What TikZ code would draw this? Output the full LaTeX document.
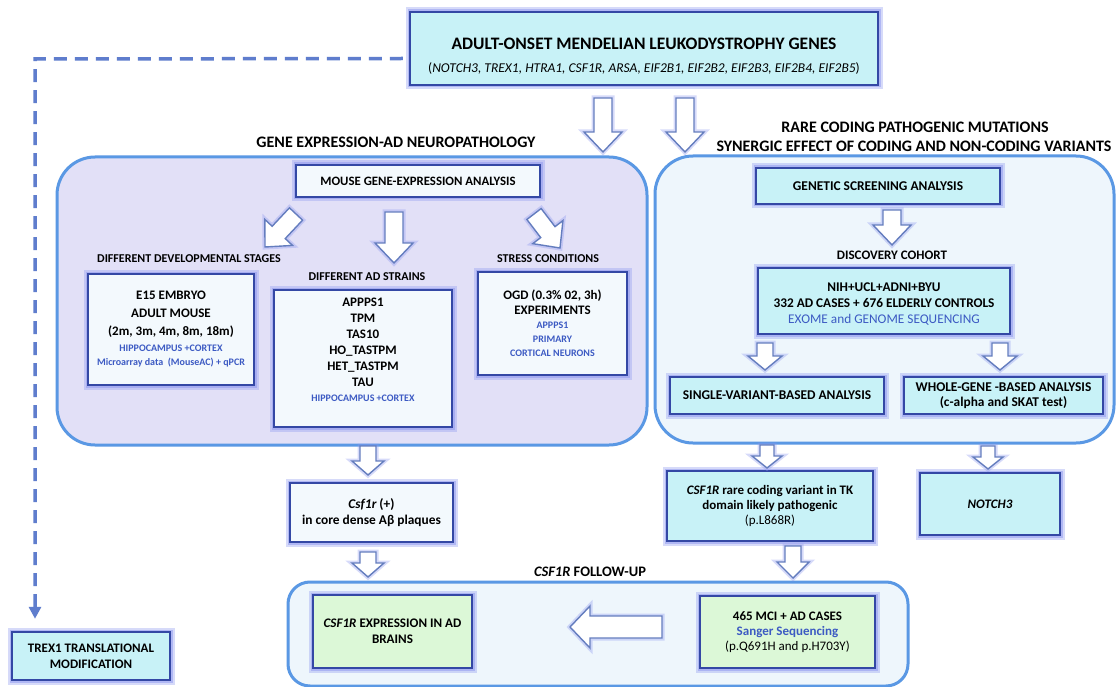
\documentclass[tikz,border=0pt]{standalone}
\usepackage{fontspec}
\setmainfont{Carlito}
\usetikzlibrary{calc,arrows.meta}
\definecolor{boxb}{RGB}{52,72,165}
\definecolor{glowc}{RGB}{140,150,240}
\definecolor{cyanf}{RGB}{200,242,247}
\definecolor{lavf}{RGB}{226,224,247}
\definecolor{panb}{RGB}{90,152,228}
\definecolor{lightf}{RGB}{238,246,252}
\definecolor{whitef}{RGB}{243,249,253}
\definecolor{greenf}{RGB}{220,248,215}
\definecolor{bluet}{RGB}{60,90,195}
\definecolor{dashb}{RGB}{95,125,205}
\definecolor{arrb}{RGB}{100,125,190}
\newcommand{\fs}[1]{\fontsize{#1}{#1}\selectfont}
\newcommand{\blockarr}[5]{%
  \coordinate (bah) at ($(#2)!#5!(#1)$);
  \draw[barrowglow] ($(#1)!#3!90:(#2)$) -- ($(bah)!#3!90:(#2)$) -- ($(bah)!#4!90:(#2)$) -- (#2) -- ($(bah)!#4!-90:(#2)$) -- ($(bah)!#3!-90:(#2)$) -- ($(#1)!#3!-90:(#2)$) -- cycle;
  \draw[barrow] ($(#1)!#3!90:(#2)$) -- ($(bah)!#3!90:(#2)$) -- ($(bah)!#4!90:(#2)$) -- (#2) -- ($(bah)!#4!-90:(#2)$) -- ($(bah)!#3!-90:(#2)$) -- ($(#1)!#3!-90:(#2)$) -- cycle;}
\tikzset{
  box/.style={draw=boxb, line width=2.4pt, align=center, inner sep=2pt,
    preaction={draw=glowc, line width=9pt, opacity=0.35},
    preaction={draw=glowc, line width=5pt, opacity=0.5},
    font=\bfseries\fs{13}},
  cbox/.style={box, fill=cyanf},
  wbox/.style={box, fill=whitef},
  gbox/.style={box, fill=greenf},
  panel/.style={draw=panb, line width=3pt, rounded corners=38pt},
  lbl/.style={font=\bfseries\fs{12.5}, inner sep=0pt},
  ttl/.style={font=\bfseries\fs{16}, inner sep=0pt},
  barrow/.style={draw=arrb, fill=white, line width=1.4pt, line join=miter},
  barrowglow/.style={draw=glowc, line width=5pt, opacity=0.35},
  dasharr/.style={draw=dashb, line width=3.5pt, dash pattern=on 13pt off 8pt, -{Triangle[length=12pt,width=12pt]}}
}
\newcommand{\bt}[1]{{\color{bluet}#1}}
\begin{document}
\begin{tikzpicture}[x=1pt,y=-1pt]
\useasboundingbox (0,0) rectangle (1116,687);
\fill[white] (0,0) rectangle (1116,687);

% panels
\draw[panel, fill=lavf] (57,157) rectangle (647,445);
\draw[panel, fill=lightf] (655,156) rectangle (1114,443);
\draw[panel, fill=lightf, rounded corners=22pt] (288,582) rectangle (908,686);

% titles
\node[ttl] (tleft) at (396,142) {GENE EXPRESSION-AD NEUROPATHOLOGY};
\node[ttl] (tright1) at (915,127) {RARE CODING PATHOGENIC MUTATIONS};
\node[ttl] (tright2) at (914,146) {SYNERGIC EFFECT OF CODING AND NON-CODING VARIANTS};
\node[ttl, font=\bfseries\fs{14.5}] (tfollow) at (590,572) {\itshape CSF1R\upshape{} FOLLOW-UP};

% top box
\node[cbox, minimum width=468pt, minimum height=73pt] (top) at (644,48.5)
  {\rule{0pt}{27pt}{\fs{17.5}ADULT-ONSET MENDELIAN LEUKODYSTROPHY GENES}\\[10pt]
   {\mdseries\fs{13.5}(\itshape NOTCH3, TREX1, HTRA1, CSF1R, ARSA, EIF2B1, EIF2B2, EIF2B3, EIF2B4, EIF2B5\upshape)}};

\node[cbox, minimum width=158pt, minimum height=48pt, font=\bfseries\fs{13}] (trex) at (91,656)
  {TREX1 TRANSLATIONAL\\[3pt]MODIFICATION};

% left panel contents
\node[wbox, minimum width=244pt, minimum height=32pt, font=\bfseries\fs{12.8}] (mouse) at (418,181)
  {MOUSE GENE-EXPRESSION ANALYSIS};
\node[lbl, font=\bfseries\fs{12}] (ldev) at (189,259) {DIFFERENT DEVELOPMENTAL STAGES};
\node[lbl, font=\bfseries\fs{12}] (lstr) at (367,277) {DIFFERENT AD STRAINS};
\node[lbl, font=\bfseries\fs{12}] (lstress) at (548,259) {STRESS CONDITIONS};

\node[wbox, minimum width=166pt, minimum height=111pt] (dev) at (171,329.5)
  {E15 EMBRYO\\[5pt] ADULT MOUSE\\[5pt] (2m, 3m, 4m, 8m, 18m)\\[3pt]
   {\fs{10}\bt{HIPPOCAMPUS +CORTEX}}\\[1pt] {\fs{10}\bt{Microarray data\ \ (MouseAC) + qPCR}}};
\node[wbox, minimum width=178pt, minimum height=137pt] (strains) at (363,358.5)
  {APPPS1\\[3pt] TPM\\[3pt] TAS10\\[3pt] HO\_TASTPM\\[3pt] HET\_TASTPM\\[3pt] TAU\\[2pt]
   {\fs{10}\bt{HIPPOCAMPUS +CORTEX}}\\[5pt]\mbox{}};
\node[wbox, minimum width=149pt, minimum height=103pt] (stress) at (552.5,323.5)
  {OGD (0.3\% 02, 3h)\\[2pt] EXPERIMENTS\\[1pt]
   {\fs{10}\bt{APPPS1}}\\[1pt] {\fs{10}\bt{PRIMARY}}\\[1pt] {\fs{10}\bt{CORTICAL NEURONS}}};

% right panel contents
\node[cbox, minimum width=244pt, minimum height=36pt, font=\bfseries\fs{13.4}] (gsa) at (878,186)
  {GENETIC SCREENING ANALYSIS};
\node[lbl, font=\bfseries\fs{13}] (ldisc) at (892,255) {DISCOVERY COHORT};
\node[cbox, minimum width=252pt, minimum height=66pt, font=\bfseries\fs{13.3}] (nih) at (884,301)
  {\rule{0pt}{15pt}NIH+UCL+ADNI+BYU\\[2.5pt] 332 AD CASES + 676 ELDERLY CONTROLS\\[2.5pt]
   {\mdseries\bt{EXOME and GENOME SEQUENCING}}};
\node[cbox, minimum width=214pt, minimum height=37pt, font=\bfseries\fs{13.4}] (single) at (777,395.5)
  {SINGLE-VARIANT-BASED ANALYSIS};
\node[cbox, minimum width=199pt, minimum height=37pt, font=\bfseries\fs{13.4}] (whole) at (1003.5,395.5)
  {WHOLE-GENE -BASED ANALYSIS\\[1pt] (c-alpha and SKAT test)};

% below panels
\node[cbox, minimum width=206pt, minimum height=70pt, font=\bfseries\fs{13}] (csfvar) at (770,506)
  {\itshape CSF1R\upshape{} rare coding variant in TK\\[2pt] domain likely pathogenic\\[2pt] {\mdseries (p.L868R)}};
\node[cbox, minimum width=140pt, minimum height=62pt, font=\bfseries\itshape\fs{13}] (notch) at (990,504)
  {NOTCH3};
\node[wbox, minimum width=163pt, minimum height=59pt, font=\bfseries\fs{13.4}] (csfplus) at (371.5,512.5)
  {\itshape Csf1r\upshape{} (+)\\[3pt] in core dense Aβ plaques};
\node[gbox, minimum width=159pt, minimum height=73pt, font=\bfseries\fs{13.1}] (csfexpr) at (392.5,631.5)
  {\itshape CSF1R\upshape{} EXPRESSION IN AD\\[3pt] BRAINS};
\node[gbox, minimum width=175pt, minimum height=72pt, font=\bfseries\fs{13}] (mci) at (787.5,632)
  {465 MCI + AD CASES\\[2pt] \bt{Sanger Sequencing}\\[2pt] {\mdseries (p.Q691H and p.H703Y)}};

% block arrows
\coordinate (a1s) at (603,98);  \coordinate (a1e) at (603,152);
\coordinate (a2s) at (685,98);  \coordinate (a2e) at (685,152);
\blockarr{a1s}{a1e}{9pt}{19pt}{20pt}
\blockarr{a2s}{a2e}{9pt}{19pt}{20pt}
\coordinate (d1s) at (296,214); \coordinate (d1e) at (265,247);
\coordinate (d2s) at (394,212); \coordinate (d2e) at (394,263);
\coordinate (d3s) at (534,214); \coordinate (d3e) at (560,248);
\blockarr{d1s}{d1e}{9pt}{19pt}{20pt}
\blockarr{d2s}{d2e}{9pt}{19pt}{20pt}
\blockarr{d3s}{d3e}{9pt}{19pt}{20pt}
\coordinate (g1s) at (892,210); \coordinate (g1e) at (892,245);
\blockarr{g1s}{g1e}{9pt}{19pt}{20pt}
\coordinate (n1s) at (765,343); \coordinate (n1e) at (765,370);
\coordinate (n2s) at (1000,343); \coordinate (n2e) at (1000,370);
\blockarr{n1s}{n1e}{8pt}{17pt}{14pt}
\blockarr{n2s}{n2e}{8pt}{17pt}{14pt}
\coordinate (p1s) at (767,445); \coordinate (p1e) at (767,468);
\coordinate (p2s) at (988,446); \coordinate (p2e) at (988,469);
\blockarr{p1s}{p1e}{7pt}{15pt}{12pt}
\blockarr{p2s}{p2e}{7pt}{15pt}{12pt}
\coordinate (v1s) at (793,546); \coordinate (v1e) at (793,578);
\blockarr{v1s}{v1e}{8pt}{16pt}{16pt}
\coordinate (c1s) at (368,446); \coordinate (c1e) at (368,475);
\coordinate (c2s) at (368,552); \coordinate (c2e) at (368,577);
\blockarr{c1s}{c1e}{8pt}{16pt}{14pt}
\blockarr{c2s}{c2e}{8pt}{16pt}{14pt}
\coordinate (m1s) at (662,627); \coordinate (m1e) at (570,627);
\blockarr{m1s}{m1e}{11pt}{21pt}{20pt}

% dashed connector
\coordinate (dc) at (35,59);
\draw[dasharr] ([yshift=-10pt,xshift=-6pt]top.west) -- (dc) -- ([yshift=12pt]dc |- trex.north);
\end{tikzpicture}
\end{document}
